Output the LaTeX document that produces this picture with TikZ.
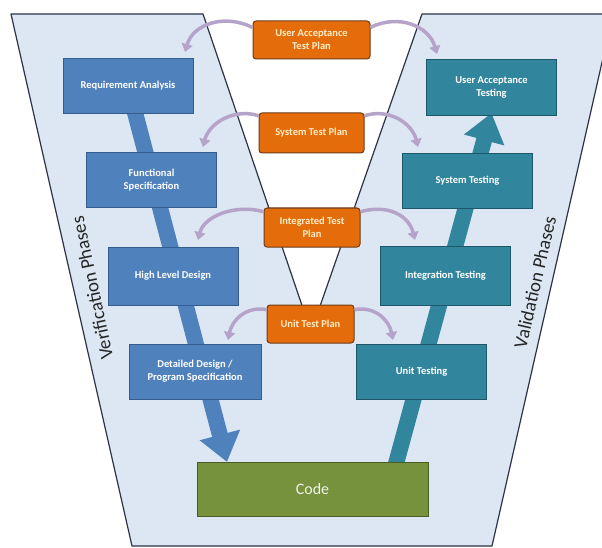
\documentclass[tikz,border=0pt]{standalone}
\usepackage{fontspec}
\setmainfont{Carlito}
\usetikzlibrary{arrows.meta}
\definecolor{phasebg}{RGB}{221,231,243}
\definecolor{phaseline}{RGB}{45,50,70}
\definecolor{verifblue}{RGB}{79,129,189}
\definecolor{verifline}{RGB}{52,92,140}
\definecolor{validteal}{RGB}{49,133,156}
\definecolor{validline}{RGB}{30,88,104}
\definecolor{codegreen}{RGB}{118,146,60}
\definecolor{codeline}{RGB}{72,92,36}
\definecolor{planorange}{RGB}{228,108,10}
\definecolor{planline}{RGB}{110,60,25}
\definecolor{plantext}{RGB}{255,238,200}
\definecolor{linkpurple}{RGB}{181,163,201}
\tikzset{
  verifbox/.style={draw=verifline, line width=0.8pt, fill=verifblue, text=white, align=center,
    font=\bfseries\fontsize{10.5}{13}\selectfont, minimum width=130pt, minimum height=55pt, inner sep=2pt},
  validbox/.style={verifbox, draw=validline, fill=validteal},
  planbox/.style={draw=planline, line width=1pt, fill=planorange, text=plantext, rounded corners=3pt,
    align=center, font=\bfseries\fontsize{10.5}{13}\selectfont, minimum height=39pt, inner sep=2pt},
  planlink/.style={draw=linkpurple, line width=3.5pt, -{Triangle[width=11pt,length=8pt]}},
  phaselabel/.style={text=black!85, font=\fontsize{19}{22}\selectfont}
}
\begin{document}
\begin{tikzpicture}[x=1pt, y=-1pt]
	\useasboundingbox (0,0) rectangle (602,548);
	\clip (0,0) rectangle (602,548);
	\fill[white] (0,0) rectangle (602,548);
	\draw[phaseline, fill=phasebg, line width=1.2pt, line join=round]
		(11,14) -- (203,14) -- (311,332) -- (422,14) -- (613,14) -- (492,546) -- (132,546) -- cycle;

	\draw (92,288) node[phaselabel, rotate=102] (verif) {Verification Phases};
	\draw (535,282) node[phaselabel, rotate=77] (valid) {Validation Phases};

	\coordinate (reqc) at (128,86);
	\coordinate (uatc) at (491.5,113);
	\coordinate (codeL) at (227,462);
	\coordinate (codeR) at (391,482);
	\draw[verifblue, line width=16pt, -{Triangle[width=40pt,length=28pt]}] (reqc) -- (codeL);
	\draw[validteal, line width=16pt, -{Triangle[width=40pt,length=28pt]}] (codeR) -- (uatc);

	\draw (312.5,489) node[draw=codeline, line width=0.8pt, fill=codegreen, text=white!88!codegreen,
		minimum width=231pt, minimum height=54pt, font=\fontsize{16}{19}\selectfont] (code) {Code};

	\draw (reqc) node[verifbox] (req) {Requirement Analysis};
	\draw (151.5,180) node[verifbox] (fun) {Functional\\Specification};
	\draw (173,276) node[verifbox, minimum height=58pt] (hld) {High Level Design};
	\draw (195,371.5) node[verifbox, minimum width=132pt] (dd) {Detailed Design /\\Program Specification};

	\draw (491.5,87) node[validbox, minimum height=56pt] (uat) {User Acceptance\\Testing};
	\draw (467.5,180.5) node[validbox] (st) {System Testing};
	\draw (445.5,276) node[validbox, minimum height=59pt] (it) {Integration Testing};
	\draw (421.5,372) node[validbox] (ut) {Unit Testing};

	\draw (311.5,40) node[planbox, minimum width=117pt, minimum height=38pt] (uatp) {User Acceptance\\Test Plan};
	\draw (311.5,133) node[planbox, minimum width=105pt, minimum height=40pt] (stp) {System Test Plan};
	\draw (312,227.5) node[planbox, minimum width=96pt] (itp) {Integrated Test\\Plan};
	\draw (310.5,324) node[planbox, minimum width=87pt, minimum height=38pt] (utp) {Unit Test Plan};

	\coordinate (uatpL) at (185,52);
	\coordinate (uatpR) at (437,54);
	\coordinate (stpL) at (203,147);
	\coordinate (stpR) at (418,147);
	\coordinate (itpL) at (198,240);
	\coordinate (itpR) at (415,240);
	\coordinate (utpL) at (228,340);
	\coordinate (utpR) at (393,340);

	\draw[planlink] (uatp.168) .. controls +(-28,-14) and +(8,-28) .. (uatpL);
	\draw[planlink] (uatp.12) .. controls +(28,-14) and +(-8,-28) .. (uatpR);
	\draw[planlink] (stp.162) .. controls +(-24,-8) and +(6,-24) .. (stpL);
	\draw[planlink] (stp.18) .. controls +(24,-8) and +(-6,-24) .. (stpR);
	\draw[planlink] (itp.162) .. controls +(-28,-8) and +(6,-24) .. (itpL);
	\draw[planlink] (itp.18) .. controls +(28,-8) and +(-6,-24) .. (itpR);
	\draw[planlink] (utp.162) .. controls +(-20,-4) and +(4,-20) .. (utpL);
	\draw[planlink] (utp.18) .. controls +(20,-4) and +(-4,-20) .. (utpR);
\end{tikzpicture}
\end{document}
